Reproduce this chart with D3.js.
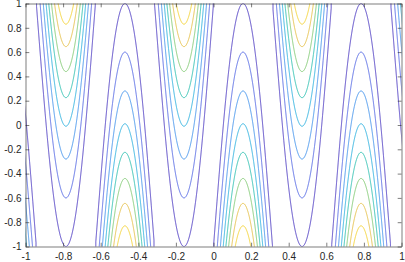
<!DOCTYPE html>
<html><head><meta charset="utf-8">
<script src="https://cdn.jsdelivr.net/npm/d3@7"></script>
<style>html,body{margin:0;padding:0;background:#fff;}svg{display:block;}</style>
</head><body>
<svg id="c" width="405" height="262"></svg>
<script>
// x positions of the ridge centres and whether the
// values grow upward (+1, "U" columns) or downward (-1, "∩" columns)
const ridgeCenters = [-1.1, -0.785, -0.471, -0.157, 0.157, 0.471, 0.785, 1.1];
const ridgeDirection = [-1, 1, -1, 1, -1, 1, -1, 1];
// y at which each contour level reaches its apex on a ridge centre (bottom to top)
const levelApexY = [-1.0, -0.60, -0.28, -0.01, 0.225, 0.44, 0.645, 0.83];
const levelColors = ["#5443c4", "#5b6ee4", "#4a97ec", "#35b3df", "#36c1b3", "#86cb79", "#e5c14e", "#f3d33c"];
const xTickValues = [-1, -0.8, -0.6, -0.4, -0.2, 0, 0.2, 0.4, 0.6, 0.8, 1];
const xTickLabels = ["-1", "-0.8", "-0.6", "-0.4", "-0.2", "0", "0.2", "0.4", "0.6", "0.8", "1"];
const yTickValues = [-1, -0.8, -0.6, -0.4, -0.2, 0, 0.2, 0.4, 0.6, 0.8, 1];
const yTickLabels = ["-1", "-0.8", "-0.6", "-0.4", "-0.2", "0", "0.2", "0.4", "0.6", "0.8", "1"];

const svg = d3.select("#c");
const L = 25.5, R = 401.5, T = 3.5, B = 246.5;
const xs = d3.scaleLinear().domain([-1, 1]).range([L, R]);
const ys = d3.scaleLinear().domain([-1, 1]).range([B, T]);

// field sampled on a grid that reaches a little past the axes
const ext = 1.03, nx = 720, ny = 420;
const gx = d3.scaleLinear().domain([0.5, nx - 0.5]).range([-ext, ext]);
const gy = d3.scaleLinear().domain([0.5, ny - 0.5]).range([ext, -ext]);
function field(x, y) {
  let best = 0, bd = Infinity;
  ridgeCenters.forEach((c, i) => { const d = Math.abs(x - c); if (d < bd) { bd = d; best = i; } });
  const c = ridgeCenters[best];
  const nb = x >= c ? ridgeCenters[best + 1] : ridgeCenters[best - 1];
  const h = nb === undefined ? 0.157 : Math.abs(nb - c) / 2;
  const u = Math.min(1, bd / h);
  const a = Math.cos(u * Math.PI / 2);
  return y * ridgeDirection[best] - 2 * (1 - a);
}
const values = new Float64Array(nx * ny);
for (let j = 0; j < ny; j++) for (let i = 0; i < nx; i++) values[j * nx + i] = field(gx(i + 0.5), gy(j + 0.5));

const contours = d3.contours().size([nx, ny]).thresholds(levelApexY)(values);
const proj = d3.geoTransform({ point(px, py) { this.stream.point(xs(gx(px)), ys(gy(py))); } });
const path = d3.geoPath(proj);

svg.append("clipPath").attr("id", "clip").append("rect")
  .attr("x", L).attr("y", T).attr("width", R - L).attr("height", B - T);

svg.append("g").attr("clip-path", "url(#clip)")
  .selectAll("path").data(contours).join("path")
  .attr("d", path)
  .attr("fill", "none")
  .attr("stroke", (d, i) => levelColors[i])
  .attr("stroke-width", 1);

// axes (MATLAB box style with inward ticks)
const axCol = "#262626";
const tl = 3.8;
const fmtX = d => xTickLabels[xTickValues.indexOf(d)];
const fmtY = d => yTickLabels[yTickValues.indexOf(d)];

const gB = svg.append("g").attr("transform", `translate(0,${B})`)
  .call(d3.axisBottom(xs).tickValues(xTickValues).tickFormat(fmtX).tickSizeInner(-tl).tickSizeOuter(0).tickPadding(6));
const gT = svg.append("g").attr("transform", `translate(0,${T})`)
  .call(d3.axisTop(xs).tickValues(xTickValues).tickFormat("").tickSizeInner(-tl).tickSizeOuter(0));
const gL = svg.append("g").attr("transform", `translate(${L},0)`)
  .call(d3.axisLeft(ys).tickValues(yTickValues).tickFormat(fmtY).tickSizeInner(-tl).tickSizeOuter(0).tickPadding(4));
const gR = svg.append("g").attr("transform", `translate(${R},0)`)
  .call(d3.axisRight(ys).tickValues(yTickValues).tickFormat("").tickSizeInner(-tl).tickSizeOuter(0));

[gB, gT, gL, gR].forEach(g => {
  g.select(".domain").attr("stroke", axCol).attr("stroke-width", 0.6);
  g.selectAll(".tick line").attr("stroke", axCol).attr("stroke-width", 0.6);
  g.selectAll("text").attr("fill", axCol).style("font-family", "'Liberation Sans', Arial, Helvetica, sans-serif").style("font-size", "10px");
});
</script>
</body></html>
